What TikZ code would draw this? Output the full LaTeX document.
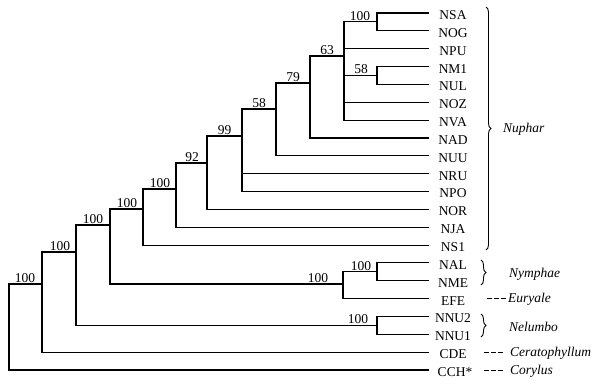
\documentclass[tikz,border=0pt]{standalone}
\usepackage{fontspec}
\setmainfont{Liberation Serif}
\usetikzlibrary{decorations.pathreplacing}
\begin{document}
\begin{tikzpicture}[x=1pt,y=-1pt,
  br/.style={line width=1.1pt, line cap=rect},
  leaf/.style={font=\fontsize{13.5}{15}\selectfont, inner sep=0pt, anchor=center},
  bs/.style={font=\fontsize{13.5}{15}\selectfont, anchor=south, inner sep=1.2pt},
  taxon/.style={font=\fontsize{13.5}{15}\selectfont\itshape, anchor=west, inner sep=0pt},
  brc/.style={decorate, decoration={brace, amplitude=5pt}, line width=0.9pt},
  dsh/.style={line width=0.8pt, dash pattern=on 5pt off 2pt}]
\useasboundingbox (0,0) rectangle (598,389);
% leaf ends and labels
\foreach \n/\i in {NSA/0,NOG/1,NPU/2,NM1/3,NUL/4,NOZ/5,NVA/6,NAD/7,NUU/8,NRU/9,NPO/10,NOR/11,NJA/12,NS1/13,NAL/14,NME/15,EFE/16,NNU2/17,NNU1/18,CDE/19,CCH/20}{
  \coordinate (e\n) at (428,{13+17.85*\i});
}
\foreach \n/\i in {NSA/0,NOG/1,NPU/2,NM1/3,NUL/4,NOZ/5,NVA/6,NAD/7,NUU/8,NRU/9,NPO/10,NOR/11,NJA/12,NS1/13,NAL/14,NME/15,EFE/16,NNU2/17,NNU1/18,CDE/19}{
  \node[leaf] (\n) at (453,{15+17.85*\i}) {\n};
}
\node[leaf] (CCH) at (455,{15+17.85*20}) {CCH*};
% internal nodes
\coordinate (a) at (377,21.9);
\coordinate (b) at (377,75.5);
\coordinate (n344) at (344,56);
\coordinate (n310) at (310,83);
\coordinate (n276) at (276,109);
\coordinate (n242) at (242,136);
\coordinate (n207) at (207,163);
\coordinate (n176) at (176,189);
\coordinate (n143) at (143,209);
\coordinate (n110) at (110,225);
\coordinate (n76) at (76,252);
\coordinate (n42) at (42,284);
\coordinate (root) at (9,284);
\coordinate (nym) at (377,271.8);
\coordinate (n343) at (343,284);
\coordinate (nel) at (377,325.4);
% branches
\draw[br] (a) |- (eNSA);  \draw[br] (a) |- (eNOG);
\draw[br] (b) |- (eNM1);  \draw[br] (b) |- (eNUL);
\draw[br] (n344) |- (a);  \draw[br] (n344) |- (eNPU);
\draw[br] (n344) |- (b);  \draw[br] (n344) |- (eNOZ);
\draw[br] (n344) |- (eNVA);
\draw[br] (n310) |- (n344); \draw[br] (n310) |- (eNAD);
\draw[br] (n276) |- (n310); \draw[br] (n276) |- (eNUU);
\draw[br] (n242) |- (n276); \draw[br] (n242) |- (eNRU);
\draw[br] (n242) |- (eNPO);
\draw[br] (n207) |- (n242); \draw[br] (n207) |- (eNOR);
\draw[br] (n176) |- (n207); \draw[br] (n176) |- (eNJA);
\draw[br] (n143) |- (n176); \draw[br] (n143) |- (eNS1);
\draw[br] (nym) |- (eNAL);  \draw[br] (nym) |- (eNME);
\draw[br] (n343) |- (nym);  \draw[br] (n343) |- (eEFE);
\draw[br] (n110) |- (n143); \draw[br] (n110) |- (n343);
\draw[br] (nel) |- (eNNU2); \draw[br] (nel) |- (eNNU1);
\draw[br] (n76) |- (n110);  \draw[br] (n76) |- (nel);
\draw[br] (n42) |- (n76);   \draw[br] (n42) |- (eCDE);
\draw[br] (root) |- (n42);  \draw[br] (root) |- (eCCH);
% bootstrap values
\node[bs] (b1) at (360,21.9) {100};
\node[bs] (b2) at (361,75.5) {58};
\node[bs] (b3) at (327,56) {63};
\node[bs] (b4) at (293,83) {79};
\node[bs] (b5) at (259,109) {58};
\node[bs] (b6) at (224.5,136) {99};
\node[bs] (b7) at (192,163) {92};
\node[bs] (b8) at (160,189) {100};
\node[bs] (b9) at (127,209) {100};
\node[bs] (b10) at (93,225) {100};
\node[bs] (b11) at (60,252) {100};
\node[bs] (b12) at (25,284) {100};
\node[bs] (b13) at (361,271.8) {100};
\node[bs] (b14) at (318,284) {100};
\node[bs] (b15) at (358,325.4) {100};
% braces and group names
\draw[brc] (486,7) -- (486,250);
\node[taxon] (Nuphar) at (503,129) {Nuphar};
\draw[brc] (481,260) -- (481,285);
\node[taxon] (Nymphae) at (509,274) {Nymphae};
\coordinate (dE1) at (487,298.6);
\coordinate (dE2) at (506,298.6);
\draw[dsh] (dE1) -- (dE2);
\node[taxon] (Euryale) at (508,299.5) {Euryale};
\draw[brc] (481,314) -- (481,337);
\node[taxon] (Nelumbo) at (509,327) {Nelumbo};
\coordinate (dC1) at (484,352.2);
\coordinate (dC2) at (503,352.2);
\draw[dsh] (dC1) -- (dC2);
\node[taxon] (Cerato) at (510,353.5) {Ceratophyllum};
\coordinate (dY1) at (484,370);
\coordinate (dY2) at (503,370);
\draw[dsh] (dY1) -- (dY2);
\node[taxon] (Corylus) at (510,371.5) {Corylus};
\end{tikzpicture}
\end{document}
